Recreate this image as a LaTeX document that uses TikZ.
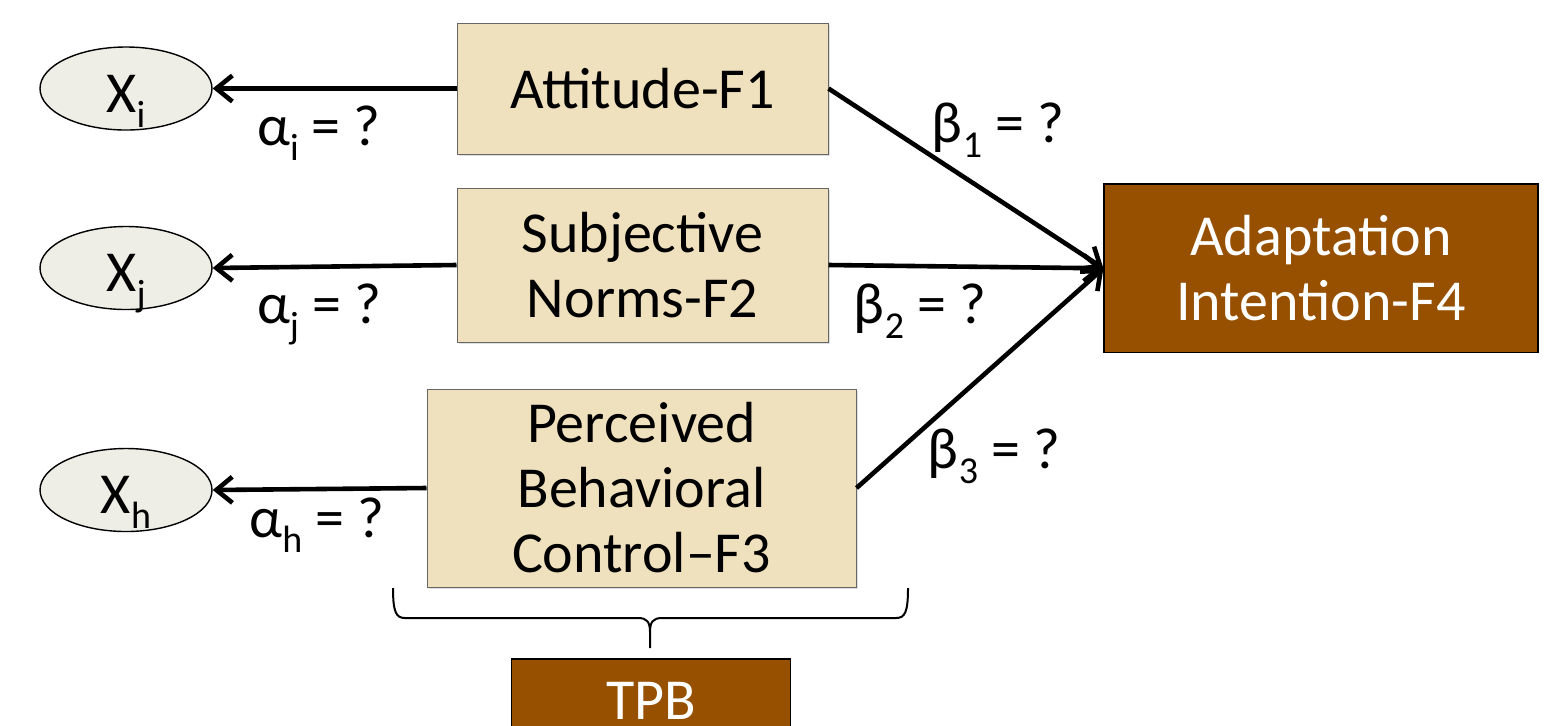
\documentclass[tikz,border=0pt]{standalone}
\usepackage{fontspec}
\setmainfont{Carlito}
\usetikzlibrary{arrows.meta, shapes.geometric, shadows}
\definecolor{factorfill}{HTML}{F0E1BE}
\definecolor{latentfill}{HTML}{EEEEE6}
\definecolor{tpbbrown}{HTML}{965000}
\newcommand{\lo}[1]{\raisebox{-7.5pt}{\fontsize{19}{19}\selectfont #1}}
\tikzset{
    factor/.style={draw=black!60, line width=0.5pt, fill=factorfill, align=center,
        drop shadow={shadow xshift=1.2pt, shadow yshift=-1.2pt, opacity=0.25}}, % 因子框
    outcome/.style={draw=black, line width=0.6pt, fill=tpbbrown, text=white, align=center}, % 棕色框
    latent/.style={ellipse, draw, line width=0.7pt, fill=latentfill, inner sep=0pt,
        minimum width=86pt, minimum height=41.5pt, text height=23.7pt, text depth=0pt}, % 指标椭圆
    coef/.style={anchor=base, inner sep=0pt}, % 系数标签
    path arrow/.style={line width=2.3pt, -{Straight Barb[length=8pt, width=13pt]}}
}
\begin{document}
\begin{tikzpicture}[x=0.5pt, y=-0.5pt, font=\fontsize{29}{32.5}\selectfont]
    \useasboundingbox (0,0) rectangle (1566,725);

    \node[factor, minimum width=185.5pt, minimum height=65.5pt] (att) at (642.5,88.5) {Attitude-F1};
    \node[factor, minimum width=185.5pt, minimum height=77pt] (norm) at (642.5,265) {Subjective\\Norms-F2};
    \node[factor, minimum width=214.5pt, minimum height=99pt] (pbc) at (641.5,488) {Perceived\\Behavioral\\Control--F3};
    \node[outcome, minimum width=217pt, minimum height=84.3pt] (adapt) at (1321,268.3) {Adaptation\\Intention-F4};
    \node[outcome, minimum width=139.5pt, minimum height=42pt] (tpb) at (651,701) {TPB};

    \foreach \name/\y in {i/88.5, j/268, h/490} {
        \node[latent] (x\name) at (126,\y) {X\lo{\name}};
    }

    \draw[path arrow] (att.west) -- (xi.east);
    \draw[path arrow] (norm.west) -- (xj.east);
    \draw[path arrow] (pbc.west) -- (xh.east);
    \foreach \src in {att, norm, pbc} {
        \draw[path arrow] (\src.east) -- (adapt.west);
    }

    \node[coef] (ai) at (319,145) {α\lo{i} = ?};
    \node[coef] (aj) at (319,323) {α\lo{j} = ?};
    \node[coef] (ah) at (317,537) {α\lo{h} = ?};
    \node[coef] (b1) at (998,142) {β\lo{1} = ?};
    \node[coef] (b2) at (920,323) {β\lo{2} = ?};
    \node[coef] (b3) at (994,468) {β\lo{3} = ?};

    % 大括号
    \draw[line width=1pt]
        (393,588) .. controls (393,612) and (396,618) .. (405,618) -- (638,618)
            .. controls (647,618) and (650,622) .. (650,632)
        (908,588) .. controls (908,612) and (905,618) .. (896,618) -- (662,618)
            .. controls (653,618) and (650,622) .. (650,632) -- (650,648);

\end{tikzpicture}
\end{document}
